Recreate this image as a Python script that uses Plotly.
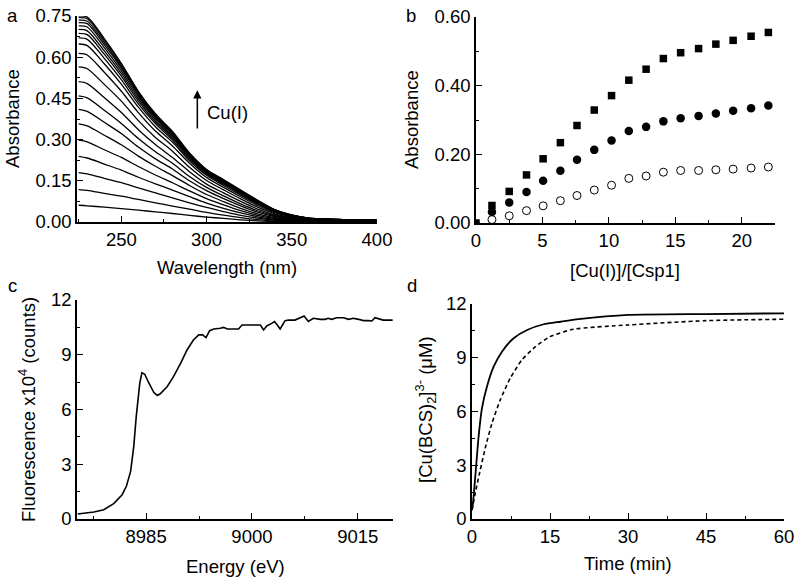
import plotly.graph_objects as go

W, H = 800, 582
FONT = "Liberation Sans, Arial, sans-serif"
FS = 18.5

# ---------------- Panel a: UV-vis titration spectra ----------------
wavelength = [225, 230, 240, 250, 260, 270, 280, 290, 300, 310, 320, 330, 340, 350, 360, 380, 400]
spectra = [
    [0.061, 0.059, 0.054, 0.049, 0.043, 0.037, 0.031, 0.024, 0.018, 0.013, 0.008, 0.004, 0.002, 0.001, 0.001, 0.001, 0.001],
    [0.118, 0.115, 0.104, 0.094, 0.082, 0.070, 0.058, 0.047, 0.035, 0.025, 0.016, 0.009, 0.004, 0.003, 0.002, 0.001, 0.001],
    [0.180, 0.175, 0.159, 0.143, 0.124, 0.106, 0.088, 0.070, 0.053, 0.038, 0.024, 0.014, 0.007, 0.004, 0.003, 0.002, 0.002],
    [0.239, 0.233, 0.211, 0.189, 0.163, 0.139, 0.116, 0.092, 0.069, 0.050, 0.033, 0.019, 0.010, 0.006, 0.004, 0.003, 0.002],
    [0.298, 0.292, 0.263, 0.235, 0.202, 0.171, 0.143, 0.113, 0.085, 0.062, 0.041, 0.024, 0.013, 0.007, 0.005, 0.003, 0.003],
    [0.357, 0.350, 0.316, 0.281, 0.240, 0.203, 0.169, 0.133, 0.100, 0.074, 0.050, 0.030, 0.016, 0.009, 0.006, 0.004, 0.004],
    [0.410, 0.403, 0.363, 0.322, 0.273, 0.230, 0.193, 0.150, 0.114, 0.085, 0.059, 0.036, 0.020, 0.011, 0.007, 0.005, 0.004],
    [0.459, 0.452, 0.407, 0.359, 0.304, 0.256, 0.214, 0.166, 0.126, 0.095, 0.066, 0.041, 0.023, 0.013, 0.008, 0.005, 0.005],
    [0.511, 0.504, 0.453, 0.399, 0.336, 0.282, 0.235, 0.183, 0.138, 0.106, 0.075, 0.047, 0.026, 0.015, 0.009, 0.006, 0.005],
    [0.565, 0.558, 0.501, 0.440, 0.369, 0.308, 0.258, 0.199, 0.151, 0.117, 0.084, 0.054, 0.030, 0.017, 0.010, 0.006, 0.006],
    [0.614, 0.608, 0.545, 0.476, 0.398, 0.331, 0.277, 0.214, 0.162, 0.126, 0.092, 0.060, 0.034, 0.019, 0.011, 0.007, 0.006],
    [0.648, 0.642, 0.576, 0.502, 0.418, 0.347, 0.291, 0.223, 0.170, 0.133, 0.098, 0.065, 0.036, 0.021, 0.012, 0.008, 0.006],
    [0.670, 0.665, 0.596, 0.518, 0.430, 0.358, 0.299, 0.229, 0.174, 0.138, 0.102, 0.068, 0.038, 0.022, 0.012, 0.008, 0.007],
    [0.687, 0.682, 0.611, 0.531, 0.440, 0.365, 0.306, 0.234, 0.178, 0.141, 0.105, 0.070, 0.040, 0.022, 0.013, 0.008, 0.007],
    [0.701, 0.696, 0.623, 0.541, 0.448, 0.372, 0.311, 0.238, 0.181, 0.144, 0.107, 0.072, 0.041, 0.023, 0.013, 0.008, 0.007],
    [0.714, 0.710, 0.635, 0.551, 0.456, 0.378, 0.316, 0.242, 0.184, 0.147, 0.110, 0.074, 0.042, 0.024, 0.013, 0.008, 0.007],
    [0.726, 0.722, 0.646, 0.560, 0.463, 0.383, 0.321, 0.245, 0.186, 0.149, 0.112, 0.075, 0.043, 0.024, 0.014, 0.009, 0.007],
    [0.735, 0.731, 0.654, 0.566, 0.468, 0.387, 0.324, 0.247, 0.188, 0.151, 0.114, 0.077, 0.044, 0.025, 0.014, 0.009, 0.007],
    [0.744, 0.740, 0.662, 0.573, 0.473, 0.391, 0.328, 0.250, 0.190, 0.153, 0.115, 0.078, 0.044, 0.025, 0.014, 0.009, 0.007],
    [0.750, 0.746, 0.668, 0.578, 0.476, 0.394, 0.330, 0.251, 0.191, 0.154, 0.116, 0.079, 0.045, 0.026, 0.014, 0.009, 0.008],
]

# ---------------- Panel b: titration points ----------------
ratio = [0.0, 1.2, 2.5, 3.8, 5.05, 6.35, 7.6, 8.9, 10.2, 11.5, 12.8, 14.1, 15.4, 16.75, 18.05, 19.35, 20.7, 22.0]
abs_square = [0.0, 0.051, 0.092, 0.140, 0.187, 0.234, 0.284, 0.329, 0.371, 0.416, 0.448, 0.479, 0.496, 0.508, 0.521, 0.532, 0.544, 0.555]
abs_circle = [None, 0.032, 0.060, 0.090, 0.123, 0.152, 0.184, 0.213, 0.240, 0.268, 0.280, 0.296, 0.305, 0.312, 0.319, 0.327, 0.334, 0.342]
abs_open = [None, 0.010, 0.021, 0.036, 0.050, 0.065, 0.080, 0.096, 0.110, 0.130, 0.137, 0.148, 0.153, 0.153, 0.155, 0.157, 0.160, 0.163]

# ---------------- Panel c: XANES ----------------
energy = [8975.3, 8977.6, 8979.0, 8980.4, 8981.6, 8982.2, 8982.8, 8983.25, 8983.6, 8984.1, 8984.4,
          8984.8, 8985.4, 8986.1, 8986.6, 8987.0, 8988.0, 8988.9, 8989.9, 8990.8, 8991.7, 8992.45,
          8993.0, 8993.5, 8994.0, 8994.6, 8995.5, 8996.0, 8996.5, 8997.4, 8998.1, 8998.6, 9001.2,
          9001.65, 9002.1, 9002.8, 9003.2, 9003.6, 9004.0, 9004.7, 9005.2, 9006.1, 9006.8, 9007.4,
          9008.0, 9008.7, 9009.7, 9010.4, 9010.8, 9011.3, 9012.0, 9013.0, 9013.7, 9014.4, 9015.1,
          9015.8, 9016.5, 9017.0, 9017.45, 9018.2, 9018.6, 9019.95]
fluor = [0.27, 0.38, 0.51, 0.84, 1.33, 1.79, 2.61, 3.98, 5.62, 7.44, 8.02,
         7.93, 7.44, 6.93, 6.77, 6.86, 7.26, 7.81, 8.54, 9.26, 9.81, 10.09,
         10.09, 9.94, 10.32, 10.41, 10.45, 10.50, 10.41, 10.41, 10.41, 10.63, 10.63,
         10.36, 10.58, 10.72, 10.82, 10.63, 10.41, 10.87, 10.90, 10.90, 11.00, 11.12,
         10.82, 11.00, 10.94, 10.94, 11.00, 10.94, 11.03, 11.03, 10.94, 11.00, 10.94,
         10.87, 10.87, 10.85, 11.03, 10.96, 10.90, 10.90]

# ---------------- Panel d: kinetics ----------------
time_solid = [0.0, 0.19, 0.63, 1.27, 1.92, 2.88, 4.16, 5.76, 8.0, 10.6, 13.8, 17.0, 20.5, 30.0, 45.0, 60.0]
conc_solid = [0.5, 0.89, 2.37, 4.6, 6.19, 7.39, 8.5, 9.34, 10.09, 10.55, 10.87, 11.01, 11.15, 11.39, 11.44, 11.48]
time_dash = [0.0, 0.63, 1.6, 2.55, 3.84, 5.44, 7.36, 9.6, 12.2, 15.0, 19.5, 30.0, 45.0, 60.0]
conc_dash = [0.5, 1.45, 2.75, 3.96, 5.35, 6.65, 7.86, 8.88, 9.62, 10.18, 10.59, 10.83, 11.07, 11.15]


def px_x(p):
    return p / W


def px_y(p):
    return 1 - p / H


fig = go.Figure()

for spec in spectra:
    fig.add_trace(go.Scatter(x=wavelength, y=spec, mode="lines",
                             line=dict(color="black", width=1.3, shape="spline", smoothing=0.8),
                             xaxis="x", yaxis="y", showlegend=False, hoverinfo="skip"))

fig.add_trace(go.Scatter(x=ratio, y=abs_square, mode="markers",
                         marker=dict(symbol="square", size=7.5, color="black"),
                         xaxis="x2", yaxis="y2", showlegend=False))
fig.add_trace(go.Scatter(x=ratio, y=abs_circle, mode="markers",
                         marker=dict(symbol="circle", size=8.5, color="black"),
                         xaxis="x2", yaxis="y2", showlegend=False))
fig.add_trace(go.Scatter(x=ratio, y=abs_open, mode="markers",
                         marker=dict(symbol="circle-open", size=8, color="black", line=dict(width=1)),
                         xaxis="x2", yaxis="y2", showlegend=False))

fig.add_trace(go.Scatter(x=energy, y=fluor, mode="lines",
                         line=dict(color="black", width=1.6),
                         xaxis="x3", yaxis="y3", showlegend=False))

fig.add_trace(go.Scatter(x=time_solid, y=conc_solid, mode="lines",
                         line=dict(color="black", width=1.8, shape="spline", smoothing=0.6),
                         xaxis="x4", yaxis="y4", showlegend=False))
fig.add_trace(go.Scatter(x=time_dash, y=conc_dash, mode="lines",
                         line=dict(color="black", width=1.6, dash="4px,3px", shape="spline", smoothing=0.6),
                         xaxis="x4", yaxis="y4", showlegend=False))


def axis(domain, rng, dtick, minor_dtick, tick0=None, fmt=None, anchor=None):
    d = dict(domain=domain, range=rng, showline=True, linecolor="black", linewidth=1.5,
             ticks="inside", ticklen=6, tickwidth=1.3, tickcolor="black",
             minor=dict(ticks="inside", ticklen=3.5, tickwidth=1.2, tickcolor="black", dtick=minor_dtick),
             dtick=dtick, showgrid=False, zeroline=False, mirror=False, automargin=False,
             tickfont=dict(family=FONT, size=FS, color="black"), anchor=anchor)
    if tick0 is not None:
        d["tick0"] = tick0
        d["minor"]["tick0"] = tick0
    if fmt:
        d["tickformat"] = fmt
    return d


fig.update_layout(
    width=W, height=H, margin=dict(l=0, r=0, t=0, b=0, autoexpand=False),
    paper_bgcolor="white", plot_bgcolor="white",
    font=dict(family=FONT, size=FS, color="black"),
    xaxis=axis([px_x(77), px_x(377)], [224, 400], 50, 25, tick0=250, anchor="y"),
    yaxis=axis([px_y(222), px_y(16)], [0, 0.75], 0.15, 0.075, tick0=0, fmt=".2f", anchor="x"),
    xaxis2=axis([px_x(476), px_x(775)], [0, 22.5], 5, 2.5, tick0=0, anchor="y2"),
    yaxis2=axis([px_y(223), px_y(17)], [0, 0.6], 0.2, 0.1, tick0=0, fmt=".2f", anchor="x2"),
    xaxis3=axis([px_x(77), px_x(393)], [8975.2, 9020], 15, 7.5, tick0=8985, anchor="y3"),
    yaxis3=axis([px_y(519), px_y(300)], [0, 12], 3, 1.5, tick0=0, anchor="x3"),
    xaxis4=axis([px_x(472), px_x(784)], [0, 60], 15, 7.5, tick0=0, anchor="y4"),
    yaxis4=axis([px_y(519), px_y(304)], [0, 12], 3, 1.5, tick0=0, anchor="x4"),
)


def text(x, y, s, angle=0, xanchor="center", size=FS):
    fig.add_annotation(x=px_x(x), y=px_y(y), xref="paper", yref="paper", text=s,
                       showarrow=False, textangle=angle, xanchor=xanchor, yanchor="middle",
                       font=dict(family=FONT, size=size, color="black"))


# panel letters
text(12, 15, "a")
text(411, 15, "b")
text(12, 285, "c")
text(412, 285, "d")

# axis titles
text(227, 268, "Wavelength (nm)")
text(13, 119, "Absorbance", angle=-90)
text(625, 270, "[Cu(I)]/[Csp1]")
text(412, 120, "Absorbance", angle=-90)
text(235, 566, "Energy (eV)")
text(27, 410, "Fluorescence x10<sup>4</sup> (counts)", angle=-90)
text(628, 563, "Time (min)")
text(425, 410, "[Cu(BCS)<sub>2</sub>]<sup>3-</sup> (μM)", angle=-90)

# arrow with Cu(I) label in panel a
fig.add_annotation(x=294.6, y=0.48, ax=294.6, ay=0.335, xref="x", yref="y", axref="x", ayref="y",
                   text="", showarrow=True, arrowhead=2, arrowsize=1.1, arrowwidth=1.5, arrowcolor="black")
fig.add_annotation(x=299.3, y=0.397, xref="x", yref="y", text="Cu(I)", showarrow=False,
                   xanchor="left", yanchor="middle", font=dict(family=FONT, size=FS, color="black"))

fig.write_html("out.html", config={"displayModeBar": False},
               post_script="document.body.style.margin='0';document.body.style.padding='0';document.body.style.overflow='hidden';")
